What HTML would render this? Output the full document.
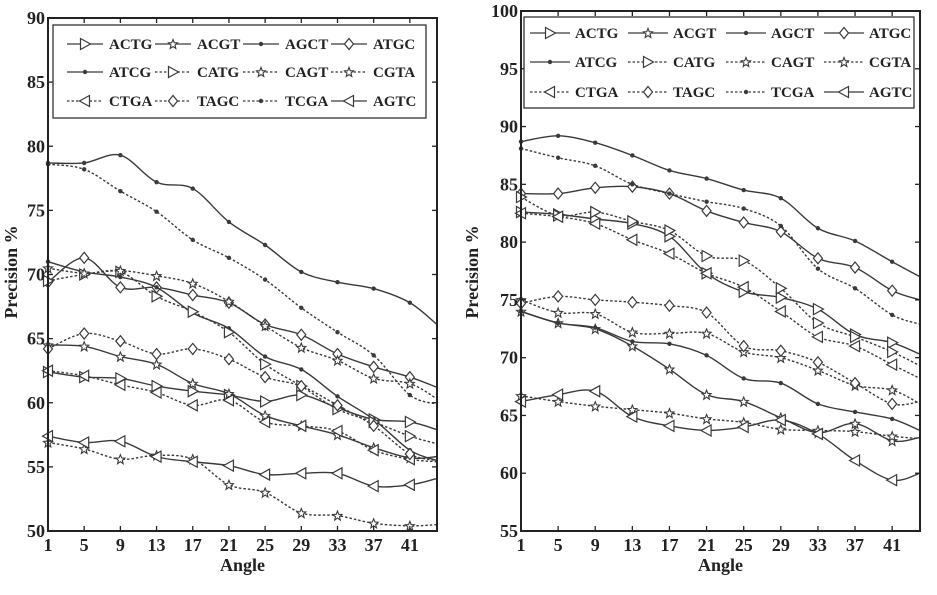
<!DOCTYPE html>
<html><head><meta charset="utf-8"><style>
html,body{margin:0;padding:0;background:#fff;}
svg{display:block;font-family:"Liberation Serif",serif;font-weight:bold;}
</style></head><body>
<svg id="chart" width="937" height="595" viewBox="0 0 937 595" xmlns="http://www.w3.org/2000/svg"></svg>
<script>
const angles = [1,5,9,13,17,21,25,29,33,37,41,44];
const xTicks = [1,5,9,13,17,21,25,29,33,37,41];
const seriesNames = ["ACTG","ACGT","AGCT","ATGC","ATCG","CATG","CAGT","CGTA","CTGA","TAGC","TCGA","AGTC"];
const seriesDash = [false,false,false,false,false,true,true,true,true,true,true,false];
const seriesMarker = ["tri-right","star","dot","diamond","dot","tri-right","star","star","tri-left","diamond","dot","tri-left"];
const leftYTicks = [50,55,60,65,70,75,80,85,90];
const rightYTicks = [55,60,65,70,75,80,85,90,95,100];
const leftACTG = [62.4,62.0,61.9,61.3,60.9,60.6,60.1,60.6,59.6,58.7,58.5,57.9];
const leftACGT = [64.5,64.4,63.6,63.0,61.5,60.7,59.0,58.2,57.5,56.5,55.7,55.8];
const leftAGCT = [78.7,78.7,79.3,77.2,76.7,74.1,72.3,70.2,69.4,68.9,67.8,66.1];
const leftATGC = [69.4,71.3,69.0,69.0,68.4,67.8,66.1,65.3,63.8,62.8,62.0,61.2];
const leftATCG = [71.0,70.2,69.8,69.0,67.0,65.8,63.6,62.6,60.5,58.7,56.3,55.5];
const leftCATG = [69.5,70.0,70.2,68.3,67.1,65.5,63.0,61.3,59.5,58.5,57.4,56.8];
const leftCAGT = [56.9,56.4,55.6,55.9,55.6,53.6,53.0,51.4,51.2,50.6,50.4,50.5];
const leftCGTA = [70.5,70.1,70.3,69.9,69.3,67.9,66.0,64.3,63.3,61.9,61.5,60.3];
const leftCTGA = [62.5,62.1,61.4,60.8,59.8,60.2,58.5,58.2,57.8,56.3,55.6,55.4];
const leftTAGC = [64.2,65.4,64.8,63.8,64.2,63.4,62.0,61.3,59.8,58.2,56.0,55.5];
const leftTCGA = [78.6,78.2,76.5,74.9,72.7,71.3,69.6,67.4,65.5,63.7,60.6,59.9];
const leftAGTC = [57.4,56.9,57.0,55.8,55.4,55.1,54.4,54.5,54.5,53.5,53.6,54.1];
const rightACTG = [82.6,82.4,82.0,81.6,80.5,77.3,75.7,75.2,74.2,72.0,71.3,70.3];
const rightACGT = [74.0,73.0,72.5,71.0,69.0,66.8,66.2,64.8,63.5,64.3,62.8,63.1];
const rightAGCT = [88.7,89.2,88.6,87.5,86.2,85.5,84.5,83.8,81.2,80.1,78.3,77.0];
const rightATGC = [84.2,84.2,84.7,84.8,84.2,82.7,81.7,80.9,78.6,77.8,75.8,75.0];
const rightATCG = [74.0,73.0,72.6,71.4,71.2,70.2,68.2,67.8,66.0,65.3,64.7,63.7];
const rightCATG = [83.9,82.3,82.6,81.8,81.0,78.8,78.4,76.0,73.0,71.8,70.5,69.3];
const rightCAGT = [66.7,66.2,65.8,65.5,65.2,64.7,64.4,63.8,63.7,63.6,63.2,63.0];
const rightCGTA = [75.0,73.9,73.8,72.2,72.1,72.1,70.5,70.0,68.9,67.6,67.2,66.0];
const rightCTGA = [82.5,82.2,81.6,80.2,79.0,77.3,76.1,74.0,71.8,71.0,69.4,68.2];
const rightTAGC = [74.7,75.3,75.0,74.8,74.5,73.9,71.0,70.6,69.6,67.8,66.0,66.2];
const rightTCGA = [88.1,87.3,86.6,85.0,84.2,83.5,82.9,81.4,77.7,76.0,73.7,72.9];
const rightAGTC = [66.2,66.8,67.1,64.9,64.1,63.7,64.0,64.6,63.4,61.1,59.4,60.0];

const NS="http://www.w3.org/2000/svg";
const svg=document.getElementById('chart');
function mk(tag,attrs,parent){const e=document.createElementNS(NS,tag);for(const k in attrs)e.setAttribute(k,attrs[k]);(parent||svg).appendChild(e);return e;}
const C="#3a3a3a";

function marker(g,type,x,y){
  let e;
  if(type==="dot"){e=mk('circle',{cx:x,cy:y,r:2.2,fill:C},g);}
  else if(type==="diamond"){e=mk('path',{d:`M${x},${y-5.5}L${x+4.5},${y}L${x},${y+5.5}L${x-4.5},${y}Z`,fill:'#fff',stroke:C,'stroke-width':1.2},g);}
  else if(type==="tri-right"){e=mk('path',{d:`M${x-4.5},${y-5.5}L${x+5.5},${y}L${x-4.5},${y+5.5}Z`,fill:'#fff',stroke:C,'stroke-width':1.2},g);}
  else if(type==="tri-left"){e=mk('path',{d:`M${x+4.5},${y-5.5}L${x-5.5},${y}L${x+4.5},${y+5.5}Z`,fill:'#fff',stroke:C,'stroke-width':1.2},g);}
  else {e=mk('path',{d:`M${x},${y-4.5}L${x+1.3},${y-1.3}L${x+4.5},${y-1.1}L${x+2},${y+1.1}L${x+2.8},${y+4.5}L${x},${y+2.5}L${x-2.8},${y+4.5}L${x-2},${y+1.1}L${x-4.5},${y-1.1}L${x-1.3},${y-1.3}Z`,fill:'#fff',stroke:C,'stroke-width':1.1},g);}
  
  
}

function smoothPath(pts){
  let d=`M${pts[0][0]},${pts[0][1]}`;
  for(let i=0;i<pts.length-1;i++){
    const p0=pts[Math.max(0,i-1)],p1=pts[i],p2=pts[i+1],p3=pts[Math.min(pts.length-1,i+2)];
    const c1x=p1[0]+(p2[0]-p0[0])/6,c1y=p1[1]+(p2[1]-p0[1])/6;
    const c2x=p2[0]-(p3[0]-p1[0])/6,c2y=p2[1]-(p3[1]-p1[1])/6;
    d+=`C${c1x},${c1y} ${c2x},${c2y} ${p2[0]},${p2[1]}`;
  }
  return d;
}

function panel(cfg){
  const g=mk('g',{});
  
  
  const {L,T,R,B,ymin,ymax,data,yTicks,leg}=cfg;
  const xs=a=>L+(a-1)/(44-1)*(R-L);
  const ys=v=>B-(v-ymin)/(ymax-ymin)*(B-T);
  data.forEach((vals,i)=>{
    const sg=mk('g',{},g);
    
    
    const pts=vals.map((v,j)=>[xs(angles[j]),ys(v)]);
    const p=mk('path',{d:smoothPath(pts),fill:'none',stroke:C,'stroke-width':1.4},sg);
    if(seriesDash[i])p.setAttribute('stroke-dasharray','2.5,2');
    
    
    vals.forEach((v,j)=>{if(j<angles.length-1)marker(sg,seriesMarker[i],xs(angles[j]),ys(v));});
  });
  const fr=mk('rect',{x:L,y:T,width:R-L,height:B-T,fill:'none',stroke:'#222','stroke-width':2},g);
  
  
  xTicks.forEach(t=>{
    const x=xs(t);
    mk('line',{x1:x,y1:B,x2:x,y2:B-5,stroke:'#222','stroke-width':1.3},g);
    mk('line',{x1:x,y1:T,x2:x,y2:T+5,stroke:'#222','stroke-width':1.3},g);
    const tx=mk('text',{x:x,y:B+20,'text-anchor':'middle','font-size':18,fill:'#222'},g);
    tx.textContent=t;
    
    
  });
  yTicks.forEach(t=>{
    const y=ys(t);
    mk('line',{x1:L,y1:y,x2:L+5,y2:y,stroke:'#222','stroke-width':1.3},g);
    mk('line',{x1:R,y1:y,x2:R-5,y2:y,stroke:'#222','stroke-width':1.3},g);
    const tx=mk('text',{x:L-3,y:y+6,'text-anchor':'end','font-size':18,fill:'#222'},g);
    tx.textContent=t;
    
    
  });
  const xl=mk('text',{x:(L+R)/2,y:B+40,'text-anchor':'middle','font-size':18,fill:'#222'},g);
  xl.textContent='Angle';
  
  
  const yl=mk('text',{x:0,y:0,'text-anchor':'middle','font-size':18,fill:'#222',transform:`translate(${cfg.ylx},${cfg.yly}) rotate(-90)`},g);
  yl.textContent='Precision %';
  
  
  const lg=mk('g',{},g);
  
  
  const lb=mk('rect',{x:leg.x,y:leg.y,width:leg.w,height:leg.h,fill:'#fff',stroke:'#333','stroke-width':1.3},lg);
  
  
  seriesNames.forEach((n,i)=>{
    const col=i%4,row=Math.floor(i/4);
    const x0=leg.lx+col*leg.cs,y0=leg.rows[row];
    const eg=mk('g',{},lg);
    
    
    const ln=mk('line',{x1:x0,y1:y0,x2:x0+leg.ll,y2:y0,stroke:C,'stroke-width':1.3},eg);
    if(seriesDash[i])ln.setAttribute('stroke-dasharray','2.5,2');
    marker(eg,seriesMarker[i],x0+leg.ll/2,y0);
    const t=mk('text',{x:x0+leg.tx,y:y0+5,'font-size':15,fill:'#222'},eg);
    t.textContent=n;
  });
}

panel({name:'left-panel',L:48,T:18,R:437,B:531,ymin:50,ymax:90,yTicks:leftYTicks,ylx:17,yly:272,
  data:[leftACTG,leftACGT,leftAGCT,leftATGC,leftATCG,leftCATG,leftCAGT,leftCGTA,leftCTGA,leftTAGC,leftTCGA,leftAGTC],
  leg:{x:53,y:25,w:373,h:93,lx:67,cs:88,ll:36,tx:42,rows:[44,72,101]}});
panel({name:'right-panel',L:521,T:11,R:920,B:531,ymin:55,ymax:100,yTicks:rightYTicks,ylx:478,yly:272,
  data:[rightACTG,rightACGT,rightAGCT,rightATGC,rightATCG,rightCATG,rightCAGT,rightCGTA,rightCTGA,rightTAGC,rightTCGA,rightAGTC],
  leg:{x:524,y:17,w:390,h:91,lx:530,cs:98,ll:40,tx:45,rows:[33,62,92]}});
</script>
</body></html>
